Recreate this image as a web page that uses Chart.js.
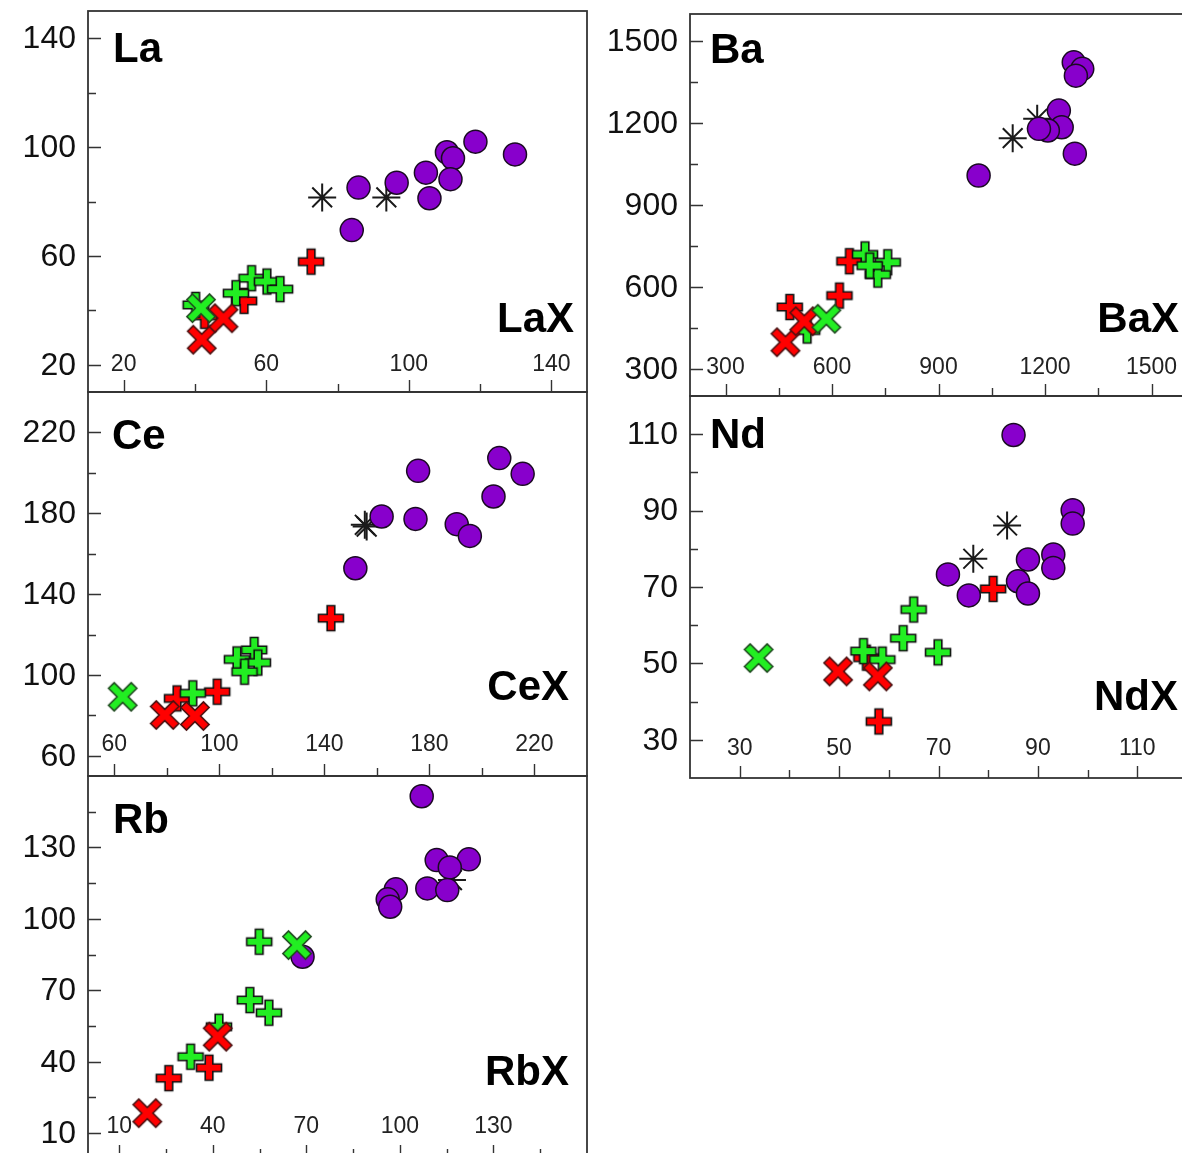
<!DOCTYPE html>
<html>
<head>
<meta charset="utf-8">
<script src="https://cdn.jsdelivr.net/npm/chart.js@4.4.0/dist/chart.umd.min.js"></script>
<style>
html, body { margin: 0; padding: 0; background: #fff; overflow: hidden; width: 1182px; height: 1153px; }
canvas { position: absolute; }
</style>
</head>
<body>
<canvas id="laChart"></canvas>
<canvas id="ceChart"></canvas>
<canvas id="rbChart"></canvas>
<canvas id="baChart"></canvas>
<canvas id="ndChart"></canvas>
<script>
// ---- La ----
var laCircle = [[84.0,69.5],[85.9,85.1],[96.6,86.9],[104.8,90.6],[105.8,81.2],[110.7,98.1],[112.4,95.9],[111.7,88.2],[118.7,102.0],[129.8,97.3]];
var laStar = [[75.7,81.5],[93.7,81.5]];
var laRedPlus = [[72.6,57.9],[53.8,43.5],[42.7,38.0]];
var laRedX = [[41.9,29.2],[48.0,37.1]];
var laGreenPlus = [[55.9,51.8],[60.2,50.6],[63.9,47.8],[51.5,46.3],[40.2,42.0]];
var laGreenX = [[41.7,40.8]];
var laXTicks = [20, 40, 60, 80, 100, 120, 140];
var laXLabels = [20, 60, 100, 140];
var laYTicks = [20, 40, 60, 80, 100, 120, 140];
var laYLabels = [20, 60, 100, 140];

// ---- Ba ----
var baCircle = [[1013,1008],[1281,1423],[1305,1399],[1287,1374],[1239,1246],[1247,1185],[1208,1173],[1183,1179],[1284,1088]];
var baStar = [[1109,1145],[1178,1216]];
var baRedPlus = [[649,694],[621,568],[481,526]];
var baRedX = [[469,397],[522,474]];
var baGreenPlus = [[693,719],[757,690],[729,645],[706,678],[530,440]];
var baGreenX = [[584,483]];
var baXTicks = [300, 450, 600, 750, 900, 1050, 1200, 1350, 1500];
var baXLabels = [300, 600, 900, 1200, 1500];
var baYTicks = [300, 450, 600, 750, 900, 1050, 1200, 1350, 1500];
var baYLabels = [300, 600, 900, 1200, 1500];

// ---- Ce ----
var ceCircle = [[151.8,152.8],[161.8,178.4],[175.7,201.0],[174.7,177.2],[190.4,174.6],[195.4,168.8],[204.4,188.3],[206.6,207.3],[215.5,199.5]];
var ceStar = [[155.4,174.3],[156.1,173.4]];
var ceRedPlus = [[142.5,128.1],[99.2,91.7],[83.9,88.4]];
var ceRedX = [[79.2,80.2],[90.7,79.7]];
var ceGreenPlus = [[89.9,90.9],[113.3,112.4],[106.7,107.7],[114.7,106.1],[109.6,101.6]];
var ceGreenX = [[63.2,89.2]];
var ceXTicks = [60, 80, 100, 120, 140, 160, 180, 200, 220];
var ceXLabels = [60, 100, 140, 180, 220];
var ceYTicks = [60, 80, 100, 120, 140, 160, 180, 200, 220];
var ceYLabels = [60, 100, 140, 180, 220];

// ---- Nd ----
var ndCircle = [[85.1,109.8],[97.0,90.1],[97.0,86.6],[88.0,77.2],[93.1,78.5],[93.1,75.0],[71.9,73.3],[76.1,67.8],[86.0,71.5],[88.0,68.3]];
var ndStar = [[77.0,77.4],[83.8,86.1]];
var ndRedPlus = [[81.0,69.5],[58.0,34.8],[55.5,51.5]];
var ndRedX = [[49.8,47.9],[57.8,46.6]];
var ndGreenPlus = [[54.9,53.2],[58.7,51.0],[62.9,56.6],[65.0,64.1],[69.9,52.9]];
var ndGreenX = [[33.8,51.4]];
var ndXTicks = [30, 40, 50, 60, 70, 80, 90, 100, 110];
var ndXLabels = [30, 50, 70, 90, 110];
var ndYTicks = [30, 40, 50, 60, 70, 80, 90, 100, 110];
var ndYLabels = [30, 50, 70, 90, 110];

// ---- Rb ----
var rbCircle = [[107.0,151.5],[111.8,124.7],[122.1,125.0],[116.0,121.6],[108.8,112.8],[115.2,112.1],[98.7,112.4],[96.1,108.2],[96.9,105.1],[68.8,84.1]];
var rbStar = [[116.7,116.3]];
var rbRedPlus = [[25.9,33.1],[38.8,37.5]];
var rbRedX = [[19.0,18.4],[41.6,50.5]];
var rbGreenPlus = [[32.9,42.1],[54.9,90.4],[51.9,65.9],[58.0,60.6],[42.0,54.7]];
var rbGreenX = [[67.0,89.0]];
var rbXTicks = [10, 25, 40, 55, 70, 85, 100, 115, 130, 145];
var rbXLabels = [10, 40, 70, 100, 130];
var rbYTicks = [10, 25, 40, 55, 70, 85, 100, 115, 130, 145];
var rbYLabels = [10, 40, 70, 100, 130];

var FONT = '"Liberation Sans", Arial, sans-serif';

// filled plus / X marker with outline, used as pointStyle image
function makeShape(kind, fill, stroke){
    var size = 36;
    var c = document.createElement('canvas');
    c.width = size; c.height = size;
    var g = c.getContext('2d');
    g.translate(size / 2, size / 2);
    var h = 12.5, t = 3.8;
    if(kind === 'x'){
        g.rotate(Math.PI / 4);
        h = 16; t = 4;
    }
    g.beginPath();
    g.moveTo(-t, -h); g.lineTo(t, -h); g.lineTo(t, -t); g.lineTo(h, -t);
    g.lineTo(h, t); g.lineTo(t, t); g.lineTo(t, h); g.lineTo(-t, h);
    g.lineTo(-t, t); g.lineTo(-h, t); g.lineTo(-h, -t); g.lineTo(-t, -t);
    g.closePath();
    g.fillStyle = fill;
    g.fill();
    g.lineWidth = 1.6;
    g.strokeStyle = stroke;
    g.stroke();
    return c;
}

var redPlusImg = makeShape('plus', '#ff0000', '#111');
var greenPlusImg = makeShape('plus', '#22ee22', '#111');
var redXImg = makeShape('x', '#ff0000', '#4a1010');
var greenXImg = makeShape('x', '#22ee22', '#1f4a1f');

function toPts(arr){
    return arr.map(function(p){ return {x: p[0], y: p[1]}; });
}

// frame, inward ticks, tick labels and panel names
function axesPlugin(p){
    return {
        id: 'axes_' + p.id,
        beforeDatasetsDraw: function(chart){
            var ctx = chart.ctx, a = chart.chartArea, x = chart.scales.x, y = chart.scales.y;
            ctx.save();
            ctx.fillStyle = '#111';
            ctx.font = '32px ' + FONT;
            ctx.textAlign = 'right';
            ctx.textBaseline = 'middle';
            p.yLabels.forEach(function(v){
                ctx.fillText(String(v), a.left - 12, y.getPixelForValue(v) + 1);
            });
            ctx.fillStyle = '#222';
            ctx.font = '23px ' + FONT;
            ctx.textAlign = 'center';
            p.xLabels.forEach(function(v){
                ctx.fillText(String(v), x.getPixelForValue(v), a.bottom - p.xLabelDy);
            });
            ctx.fillStyle = '#000';
            ctx.font = 'bold 42px ' + FONT;
            ctx.textBaseline = 'alphabetic';
            ctx.textAlign = 'left';
            ctx.fillText(p.title, a.left + p.titleDx, a.top + p.titleDy);
            ctx.textAlign = 'right';
            ctx.fillText(p.name, a.right - p.nameDx, a.bottom - p.nameDy);
            ctx.restore();
        },
        afterDatasetsDraw: function(chart){
            var ctx = chart.ctx, a = chart.chartArea, x = chart.scales.x, y = chart.scales.y;
            ctx.save();
            ctx.strokeStyle = '#333';
            ctx.lineWidth = 1.4;
            ctx.beginPath();
            p.yTicks.forEach(function(v){
                var py = Math.round(y.getPixelForValue(v)) + 0.5;
                var len = p.yLabels.indexOf(v) >= 0 ? 13 : 8;
                ctx.moveTo(a.left, py);
                ctx.lineTo(a.left + len, py);
            });
            p.xTicks.forEach(function(v){
                var px = Math.round(x.getPixelForValue(v)) + 0.5;
                var len = p.xLabels.indexOf(v) >= 0 ? 12 : 8;
                ctx.moveTo(px, a.bottom);
                ctx.lineTo(px, a.bottom - len);
            });
            ctx.stroke();
            ctx.lineWidth = 1.8;
            ctx.strokeRect(a.left, a.top, a.right - a.left, a.bottom - a.top);
            ctx.restore();
        }
    };
}

var panels = [
    {id: 'laChart', left: 0, top: 9, width: 590, height: 385, pad: {left: 88, right: 3, top: 2, bottom: 2},
     xMin: 10, xMax: 150, yMin: 10, yMax: 150,
     xTicks: laXTicks, xLabels: laXLabels, yTicks: laYTicks, yLabels: laYLabels,
     title: 'La', name: 'LaX', titleDx: 25, titleDy: 51, nameDx: 13, nameDy: 60, xLabelDy: 27,
     series: [laGreenX, laRedX, laGreenPlus, laRedPlus, laCircle, laStar]},
    {id: 'ceChart', left: 0, top: 390, width: 590, height: 388, pad: {left: 88, right: 3, top: 2, bottom: 2},
     xMin: 50, xMax: 240, yMin: 50, yMax: 240,
     xTicks: ceXTicks, xLabels: ceXLabels, yTicks: ceYTicks, yLabels: ceYLabels,
     title: 'Ce', name: 'CeX', titleDx: 24, titleDy: 57, nameDx: 18, nameDy: 76, xLabelDy: 31,
     series: [ceGreenX, ceRedX, ceGreenPlus, ceRedPlus, ceCircle, ceStar]},
    {id: 'rbChart', left: 0, top: 774, width: 590, height: 385, pad: {left: 88, right: 3, top: 2, bottom: 2},
     xMin: 0, xMax: 160, yMin: 0, yMax: 160,
     xTicks: rbXTicks, xLabels: rbXLabels, yTicks: rbYTicks, yLabels: rbYLabels,
     title: 'Rb', name: 'RbX', titleDx: 25, titleDy: 57, nameDx: 18, nameDy: 72, xLabelDy: 30,
     series: [rbGreenX, rbRedX, rbGreenPlus, rbRedPlus, rbCircle, rbStar]},
    {id: 'baChart', left: 600, top: 12, width: 600, height: 386, pad: {left: 90, right: 13, top: 2, bottom: 2},
     xMin: 200, xMax: 1600, yMin: 200, yMax: 1600,
     xTicks: baXTicks, xLabels: baXLabels, yTicks: baYTicks, yLabels: baYLabels,
     title: 'Ba', name: 'BaX', titleDx: 20, titleDy: 49, nameDx: 8, nameDy: 64, xLabelDy: 28,
     series: [baGreenX, baRedX, baGreenPlus, baRedPlus, baCircle, baStar]},
    {id: 'ndChart', left: 600, top: 394, width: 600, height: 386, pad: {left: 90, right: 13, top: 2, bottom: 2},
     xMin: 20, xMax: 120, yMin: 20, yMax: 120,
     xTicks: ndXTicks, xLabels: ndXLabels, yTicks: ndYTicks, yLabels: ndYLabels,
     title: 'Nd', name: 'NdX', titleDx: 20, titleDy: 52, nameDx: 9, nameDy: 68, xLabelDy: 29,
     series: [ndGreenX, ndRedX, ndGreenPlus, ndRedPlus, ndCircle, ndStar]}
];

// order: first dataset is drawn on top
var styles = [
    {pointStyle: greenXImg, pointRadius: 12, backgroundColor: '#22ee22', borderColor: '#1f4a1f', borderWidth: 0},
    {pointStyle: redXImg, pointRadius: 12, backgroundColor: '#ff0000', borderColor: '#4a1010', borderWidth: 0},
    {pointStyle: greenPlusImg, pointRadius: 12, backgroundColor: '#22ee22', borderColor: '#111', borderWidth: 0},
    {pointStyle: redPlusImg, pointRadius: 12, backgroundColor: '#ff0000', borderColor: '#111', borderWidth: 0},
    {pointStyle: 'circle', pointRadius: 11.5, backgroundColor: '#8800cc', borderColor: '#1a0a22', borderWidth: 1.5},
    {pointStyle: 'star', pointRadius: 14, backgroundColor: 'rgba(0,0,0,0)', borderColor: '#1a1a1a', borderWidth: 2}
];

function createPanel(p){
    var canvas = document.getElementById(p.id);
    canvas.width = p.width;
    canvas.height = p.height;
    canvas.style.left = p.left + 'px';
    canvas.style.top = p.top + 'px';
    var datasets = p.series.map(function(arr, i){
        var s = styles[i];
        return {
            data: toPts(arr),
            pointStyle: s.pointStyle,
            pointRadius: s.pointRadius,
            pointBackgroundColor: s.backgroundColor,
            pointBorderColor: s.borderColor,
            pointBorderWidth: s.borderWidth,
            showLine: false
        };
    });
    return new Chart(canvas.getContext('2d'), {
        type: 'scatter',
        data: {datasets: datasets},
        options: {
            responsive: false,
            animation: false,
            events: [],
            layout: {padding: p.pad, autoPadding: false},
            plugins: {legend: {display: false}, tooltip: {enabled: false}},
            scales: {
                x: {type: 'linear', min: p.xMin, max: p.xMax, display: false},
                y: {type: 'linear', min: p.yMin, max: p.yMax, display: false}
            }
        },
        plugins: [axesPlugin(p)]
    });
}

panels.forEach(createPanel);
</script>
</body>
</html>
